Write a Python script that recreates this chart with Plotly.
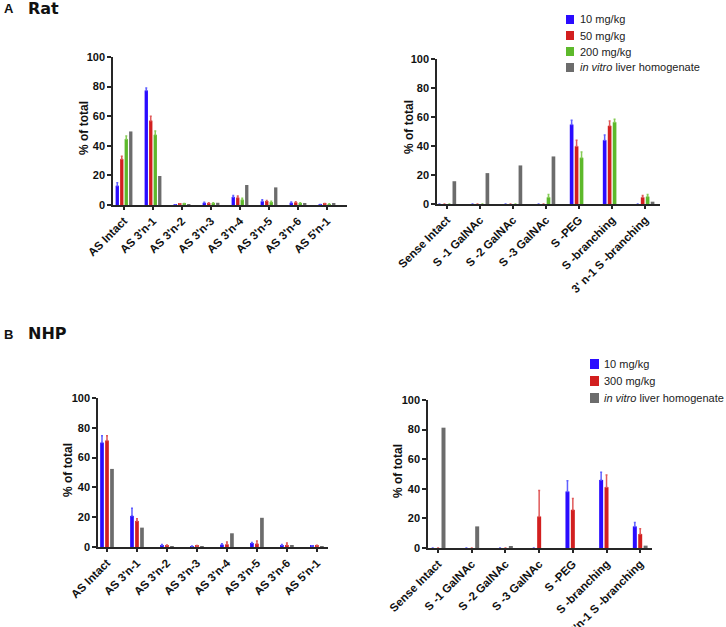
import plotly.graph_objects as go
from plotly.subplots import make_subplots

W, H = 726, 627

# ---- data ----
rat_as_cats = ["AS Intact", "AS 3'n-1", "AS 3'n-2", "AS 3'n-3", "AS 3'n-4", "AS 3'n-5", "AS 3'n-6", "AS 5'n-1"]
rat_as_10 = [13.0, 77.4, 0.2, 1.5, 5.4, 2.5, 1.5, 0.3]
rat_as_10_err = [2.0, 1.6, 0.0, 0.3, 1.1, 1.1, 0.5, 0.0]
rat_as_50 = [31.0, 57.0, 0.7, 1.2, 5.0, 2.7, 1.8, 0.8]
rat_as_50_err = [2.0, 3.0, 0.2, 0.3, 1.0, 0.4, 0.4, 0.2]
rat_as_200 = [44.5, 47.4, 0.8, 1.2, 3.6, 2.0, 1.3, 0.6]
rat_as_200_err = [2.2, 2.6, 0.2, 0.3, 0.9, 0.5, 0.3, 0.2]
rat_as_vitro = [49.7, 19.6, 0.5, 1.5, 13.5, 11.9, 1.1, 0.8]

rat_s_cats = ["Sense Intact", "S -1 GalNAc", "S -2 GalNAc", "S -3 GalNAc", "S -PEG", "S -branching", "3' n-1 S -branching"]
rat_s_10 = [0, 0, 0, 0, 54.8, 44.0, 0]
rat_s_10_err = [0, 0, 0, 0, 3.0, 3.6, 0]
rat_s_50 = [0, 0, 0, 0, 39.8, 53.9, 4.6]
rat_s_50_err = [0, 0, 0, 0, 4.2, 3.4, 1.2]
rat_s_200 = [0, 0, 0, 4.6, 31.9, 56.4, 5.1]
rat_s_200_err = [0, 0, 0, 1.9, 3.9, 2.1, 1.4]
rat_s_vitro = [15.7, 21.3, 26.6, 32.8, 0, 0, 1.6]

nhp_as_cats = rat_as_cats
nhp_as_10 = [70.1, 20.9, 1.2, 0.5, 1.6, 2.7, 1.1, 0.7]
nhp_as_10_err = [4.5, 5.1, 0.4, 0.2, 0.6, 0.4, 0.5, 0.2]
nhp_as_300 = [71.5, 17.5, 1.0, 0.7, 1.8, 2.2, 1.3, 0.8]
nhp_as_300_err = [3.1, 1.4, 0.4, 0.3, 1.6, 1.8, 1.4, 0.3]
nhp_as_vitro = [52.4, 13.0, 0.5, 0.5, 9.2, 19.6, 1.2, 0.6]

nhp_s_cats = ["Sense Intact", "S -1 GalNAc", "S -2 GalNAc", "S -3 GalNAc", "S -PEG", "S -branching", "3'n-1 S -branching"]
nhp_s_10 = [0, 0, 0, 0, 38.2, 46.0, 14.6]
nhp_s_10_err = [0, 0, 0, 0, 7.2, 5.2, 2.7]
nhp_s_300 = [0, 0, 0, 21.3, 25.8, 41.1, 9.4]
nhp_s_300_err = [0, 0, 0, 17.6, 7.7, 8.3, 3.6]
nhp_s_vitro = [81.3, 14.6, 0.7, 0, 0, 0, 1.6]

rat_names = ["10 mg/kg", "50 mg/kg", "200 mg/kg", "<i>in vitro</i> liver homogenate"]
nhp_names = ["10 mg/kg", "300 mg/kg", "<i>in vitro</i> liver homogenate"]
y_ticks = [0, 20, 40, 60, 80, 100]

BLUE, RED, GREEN, GRAY = "#2a0cff", "#d21f1f", "#5db92b", "#6c6c6c"
ERR = {BLUE: "#6060ff", RED: "#e05a5a", GREEN: "#85cc55", GRAY: GRAY}

FONT = "Liberation Sans, Arial, sans-serif"
AXC = "#262626"


def px_x(p):
    return p / W


def px_y(p):
    return 1 - p / H


fig = make_subplots(rows=2, cols=2)


def add_panel(row, col, cats, series, errs, colors, group):
    n = len(series)
    slot = group / n
    for i, (vals, err, color) in enumerate(zip(series, errs, colors)):
        eb = None
        if err is not None:
            eb = dict(type="data", array=err, arrayminus=[0] * len(err), symmetric=False,
                      color=ERR[color], thickness=1.5, width=1)
        fig.add_trace(go.Bar(
            x=cats, y=vals,
            width=slot * 0.74,
            offset=-group / 2 + i * slot + slot * 0.13,
            marker=dict(color=color, line=dict(width=0)),
            error_y=eb,
            showlegend=False,
            hoverinfo="skip",
        ), row=row, col=col)


add_panel(1, 1, rat_as_cats, [rat_as_10, rat_as_50, rat_as_200, rat_as_vitro],
          [rat_as_10_err, rat_as_50_err, rat_as_200_err, None], [BLUE, RED, GREEN, GRAY], 0.62)
add_panel(1, 2, rat_s_cats, [rat_s_10, rat_s_50, rat_s_200, rat_s_vitro],
          [rat_s_10_err, rat_s_50_err, rat_s_200_err, None], [BLUE, RED, GREEN, GRAY], 0.6)
add_panel(2, 1, nhp_as_cats, [nhp_as_10, nhp_as_300, nhp_as_vitro],
          [nhp_as_10_err, nhp_as_300_err, None], [BLUE, RED, GRAY], 0.5)
add_panel(2, 2, nhp_s_cats, [nhp_s_10, nhp_s_300, nhp_s_vitro],
          [nhp_s_10_err, nhp_s_300_err, None], [BLUE, RED, GRAY], 0.48)

# panel geometry in pixels: (x0, x1, ytop, ybottom, xrange, y-title centre)
panels = {
    (1, 1): (113, 347, 57, 205, [-0.38, 7.69], (84, 128)),
    (1, 2): (437, 660, 59, 204, [-0.3, 6.45], (409, 127)),
    (2, 1): (98, 328, 398, 547, [-0.3, 7.37], (68, 470)),
    (2, 2): (428, 652, 400, 548, [-0.3, 6.35], (398, 471)),
}

annotations = []
shapes = []

for (r, c), (x0, x1, yt, yb, xr, ttl) in panels.items():
    fig.update_xaxes(
        domain=[px_x(x0), px_x(x1)], range=xr, automargin=False,
        showline=True, linecolor=AXC, linewidth=1.5,
        ticks="outside", ticklen=3, tickwidth=1.5, tickcolor=AXC,
        tickangle=-45, showgrid=False, zeroline=False,
        tickfont=dict(family=FONT, size=11.5, color="#111", weight="bold"),
        row=r, col=c)
    fig.update_yaxes(
        domain=[px_y(yb), px_y(yt)], range=[0, 100], automargin=False,
        tickvals=y_ticks,
        showline=True, linecolor=AXC, linewidth=1.5,
        ticks="outside", ticklen=4, tickwidth=1.5, tickcolor=AXC,
        showgrid=False, zeroline=False,
        tickfont=dict(family=FONT, size=11, color="#111", weight="bold"),
        row=r, col=c)
    # y title
    annotations.append(dict(x=px_x(ttl[0]), y=px_y(ttl[1]), xref="paper", yref="paper",
                            xanchor="center", yanchor="middle", showarrow=False,
                            text="% of total", textangle=-90,
                            font=dict(family=FONT, size=12, color="#111", weight="bold")))


def add_legend(names, colors, sq_x, sq_w, sq_h, y0, dy, tx):
    for i, (name, color) in enumerate(zip(names, colors)):
        yc = y0 + i * dy
        shapes.append(dict(type="rect", xref="paper", yref="paper",
                           x0=px_x(sq_x), x1=px_x(sq_x + sq_w),
                           y0=px_y(yc + sq_h / 2), y1=px_y(yc - sq_h / 2),
                           fillcolor=color, line=dict(width=0)))
        annotations.append(dict(x=px_x(tx), y=px_y(yc), xref="paper", yref="paper",
                                xanchor="left", yanchor="middle", showarrow=False,
                                text=name, font=dict(family=FONT, size=11, color="#222")))


add_legend(rat_names, [BLUE, RED, GREEN, GRAY], 566, 8, 9, 19.5, 16, 578)
add_legend(nhp_names, [BLUE, RED, GRAY], 590, 9, 10, 364, 17, 602)

for txt, x, y, size, fam in [("A", 2, 8, 13, FONT), ("Rat", 26, 8, 16, "DejaVu Sans"),
                             ("B", 2, 334, 13, FONT), ("NHP", 26, 333, 16, "DejaVu Sans")]:
    annotations.append(dict(x=px_x(x), y=px_y(y), xref="paper", yref="paper",
                            xanchor="left", yanchor="middle", showarrow=False, text=txt,
                            font=dict(family=fam, size=size, color="#111", weight="bold")))

fig.update_layout(
    width=W, height=H,
    margin=dict(l=0, r=0, t=0, b=0),
    barmode="overlay",
    paper_bgcolor="white", plot_bgcolor="white",
    showlegend=False,
    annotations=annotations,
    shapes=shapes,
)

# the page body has a default 8px margin; drop it so the figure fills the window
fig.write_html("out.html", config={"displayModeBar": False},
               post_script="document.body.style.margin='0';")
